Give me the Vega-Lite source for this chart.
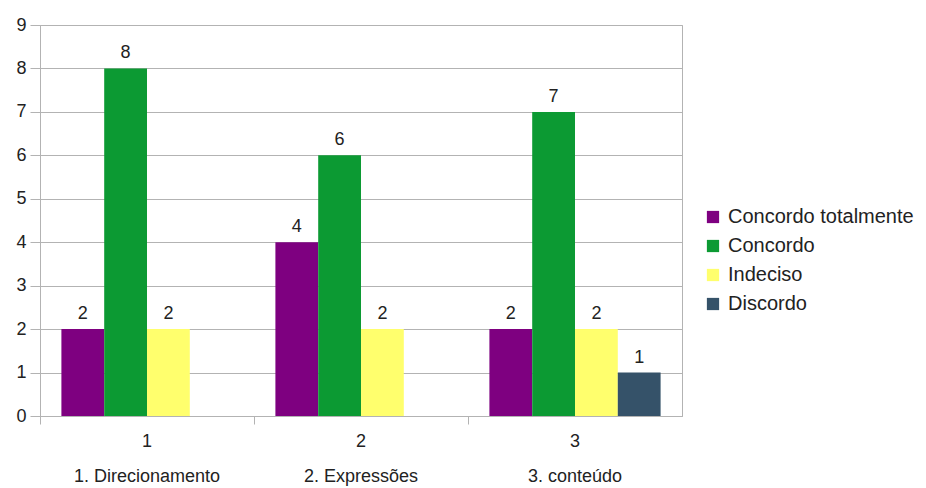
{
  "$schema": "https://vega.github.io/schema/vega-lite/v6.json",
  "autosize": "none",
  "width": 642,
  "height": 391,
  "padding": {"left": 40, "top": 25, "right": 244, "bottom": 72},
  "background": "white",
  "config": {
    "font": "Liberation Sans",
    "view": {"stroke": "#b3b3b3", "strokeWidth": 1}
  },
  "data": {
    "values": [
      {"item": "1. Direcionamento", "resposta": "Concordo totalmente", "n": 2},
      {"item": "1. Direcionamento", "resposta": "Concordo", "n": 8},
      {"item": "1. Direcionamento", "resposta": "Indeciso", "n": 2},
      {"item": "2. Expressões", "resposta": "Concordo totalmente", "n": 4},
      {"item": "2. Expressões", "resposta": "Concordo", "n": 6},
      {"item": "2. Expressões", "resposta": "Indeciso", "n": 2},
      {"item": "3. conteúdo", "resposta": "Concordo totalmente", "n": 2},
      {"item": "3. conteúdo", "resposta": "Concordo", "n": 7},
      {"item": "3. conteúdo", "resposta": "Indeciso", "n": 2},
      {"item": "3. conteúdo", "resposta": "Discordo", "n": 1}
    ]
  },
  "encoding": {
    "x": {
      "field": "item",
      "type": "nominal",
      "sort": null,
      "scale": {"paddingInner": 0, "paddingOuter": 0},
      "axis": {
        "title": null,
        "labelAngle": 0,
        "labelExpr": "[split(datum.label, '.')[0], datum.label]",
        "labelLineHeight": 35,
        "labelFontSize": 18,
        "labelColor": "#222222",
        "labelPadding": 8,
        "bandPosition": 0,
        "tickSize": 8,
        "tickColor": "#b3b3b3",
        "domainColor": "#b3b3b3",
        "grid": false
      }
    },
    "xOffset": {
      "field": "resposta",
      "type": "nominal",
      "scale": {
        "domain": ["Concordo totalmente", "Concordo", "Indeciso", "Discordo"],
        "paddingInner": 0,
        "paddingOuter": 0.5
      }
    },
    "y": {
      "field": "n",
      "type": "quantitative",
      "scale": {"domain": [0, 9], "nice": false},
      "axis": {
        "title": null,
        "values": [0, 1, 2, 3, 4, 5, 6, 7, 8, 9],
        "labelFontSize": 18,
        "labelColor": "#222222",
        "labelPadding": 4,
        "tickSize": 10,
        "tickColor": "#b3b3b3",
        "domainColor": "#b3b3b3",
        "gridColor": "#b3b3b3"
      }
    }
  },
  "layer": [
    {
      "mark": {"type": "bar"},
      "encoding": {
        "color": {
          "field": "resposta",
          "type": "nominal",
          "scale": {
            "domain": ["Concordo totalmente", "Concordo", "Indeciso", "Discordo"],
            "range": ["#7e0080", "#0c9a33", "#ffff6d", "#355269"]
          },
          "legend": {
            "title": null,
            "orient": "none",
            "legendX": 663,
            "legendY": 182,
            "symbolType": "square",
            "symbolSize": 150,
            "symbolStrokeWidth": 0,
            "labelFontSize": 20,
            "labelColor": "#222222",
            "labelOffset": 5,
            "rowPadding": 9,
            "labelLimit": 300
          }
        }
      }
    },
    {
      "mark": {"type": "text", "baseline": "bottom", "dy": -6, "fontSize": 18, "color": "#222222"},
      "encoding": {"text": {"field": "n", "type": "quantitative"}}
    }
  ]
}
